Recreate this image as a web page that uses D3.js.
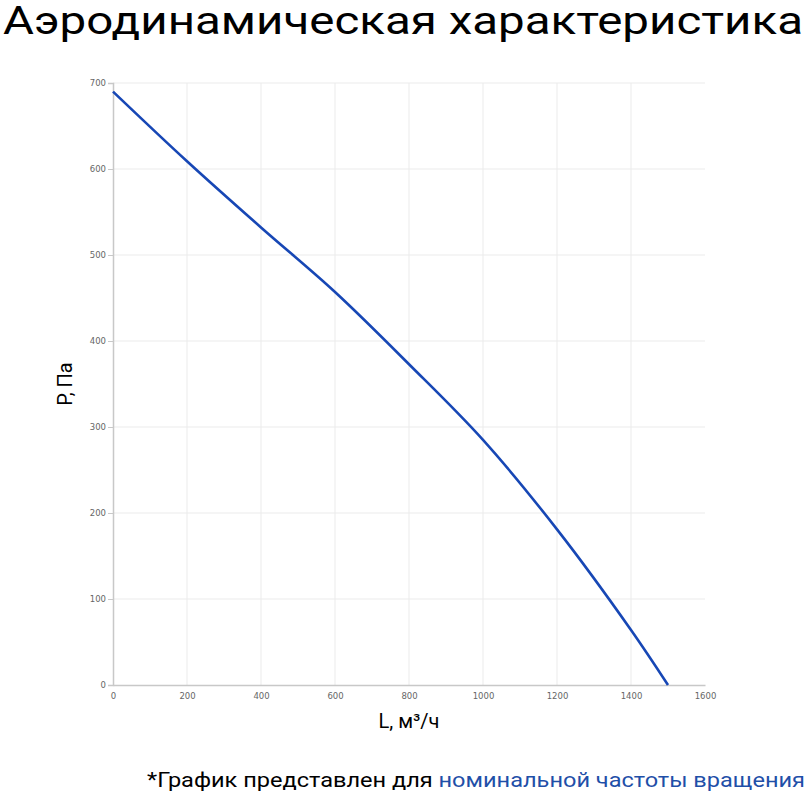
<!DOCTYPE html>
<html>
<head>
<meta charset="UTF-8" />
<title>Аэродинамическая характеристика</title>
<script src="https://cdn.jsdelivr.net/npm/d3@7"></script>
<style>
  body { margin: 0; background: #fff; }
  svg { display: block; }
</style>
</head>
<body>
<div id="chart"></div>
<script>
  // Curve points
  const flow = [0, 200, 400, 600, 800, 1000, 1200, 1400, 1500]
  const pressure = [690, 609, 532, 457, 373, 285, 181, 64, 0]

  const xTicks = [0, 200, 400, 600, 800, 1000, 1200, 1400, 1600]
  const yTicks = [0, 100, 200, 300, 400, 500, 600, 700]

  const titleText = 'Аэродинамическая характеристика'
  const xLabel = 'L, м³/ч'
  const yLabel = 'Р, Па'
  const noteBlack = '*График представлен для '
  const noteBlue = 'номинальной частоты вращения'

  const width = 810
  const height = 800
  const margin = { top: 83, right: 105, bottom: 115, left: 113 }

  const svg = d3.select('#chart')
    .append('svg')
    .attr('width', width)
    .attr('height', height)

  const x = d3.scaleLinear()
    .domain([0, 1600])
    .range([margin.left, width - margin.right])
  const y = d3.scaleLinear()
    .domain([0, 700])
    .range([height - margin.bottom, margin.top])

  // grid
  svg.append('g')
    .selectAll('line')
    .data(xTicks.slice(1, -1))
    .join('line')
    .attr('x1', d => x(d)).attr('x2', d => x(d))
    .attr('y1', y(700)).attr('y2', y(0))
    .attr('stroke', '#ebebeb')
  svg.append('g')
    .selectAll('line')
    .data(yTicks.slice(1))
    .join('line')
    .attr('x1', x(0)).attr('x2', x(1600))
    .attr('y1', d => y(d)).attr('y2', d => y(d))
    .attr('stroke', '#ebebeb')

  // axes
  const xAxis = svg.append('g')
    .attr('transform', `translate(0,${y(0)})`)
    .call(d3.axisBottom(x).tickValues(xTicks).tickFormat(d3.format('d')).tickSize(0).tickPadding(8))
  const yAxis = svg.append('g')
    .attr('transform', `translate(${x(0)},0)`)
    .call(d3.axisLeft(y).tickValues(yTicks).tickFormat(d3.format('d')).tickSize(5).tickPadding(2))

  ;[xAxis, yAxis].forEach(g => {
    g.select('.domain').attr('stroke', '#c8c8c8').attr('stroke-width', 1.5)
    g.selectAll('.tick line').attr('stroke', '#c8c8c8')
    g.selectAll('.tick text')
      .attr('fill', '#666')
      .attr('font-family', 'DejaVu Sans, sans-serif')
      .attr('font-size', 8.5)
  })

  // curve
  const line = d3.line()
    .x(d => x(d[0]))
    .y(d => y(d[1]))
    .curve(d3.curveCatmullRom.alpha(0.5))

  svg.append('path')
    .datum(flow.map((f, i) => [f, pressure[i]]))
    .attr('d', line)
    .attr('fill', 'none')
    .attr('stroke', '#1747b5')
    .attr('stroke-width', 2.6)

  // title
  svg.append('text')
    .attr('x', 3)
    .attr('y', 34)
    .attr('font-family', 'Roboto, sans-serif')
    .attr('font-size', 38)
    .attr('textLength', 800)
    .attr('lengthAdjust', 'spacingAndGlyphs')
    .attr('fill', '#000')
    .text(titleText)

  // axis labels
  svg.append('text')
    .attr('x', x(800))
    .attr('y', 728)
    .attr('text-anchor', 'middle')
    .attr('font-family', 'Roboto, sans-serif')
    .attr('font-size', 20)
    .attr('fill', '#000')
    .text(xLabel)

  svg.append('text')
    .attr('transform', `translate(72,${y(350)}) rotate(-90)`)
    .attr('text-anchor', 'middle')
    .attr('font-family', 'Roboto, sans-serif')
    .attr('font-size', 20)
    .attr('fill', '#000')
    .text(yLabel)

  // footnote
  const note = svg.append('text')
    .attr('x', 805)
    .attr('y', 787)
    .attr('text-anchor', 'end')
    .attr('font-family', 'Roboto, sans-serif')
    .attr('font-size', 20)
    .attr('textLength', 658)
    .attr('lengthAdjust', 'spacingAndGlyphs')
  note.append('tspan').attr('fill', '#000').text(noteBlack)
  note.append('tspan').attr('fill', '#1f4fa8').text(noteBlue)
</script>
</body>
</html>
